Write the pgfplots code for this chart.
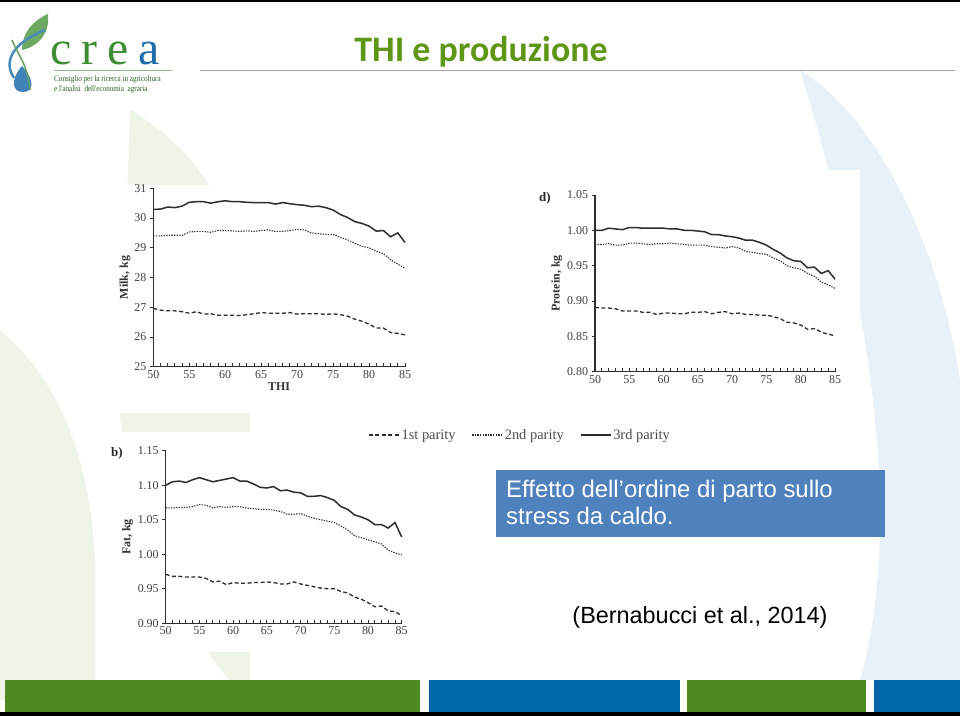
\documentclass[border=0pt]{standalone}
\usepackage{pgfplots}
\usepackage{pgfplotstable}
\pgfplotsset{compat=1.18}
\usepackage{fontspec}
\setmainfont{Liberation Serif}
\newfontfamily\arialf{Liberation Sans}
\newfontfamily\calib{Carlito}
\newfontfamily\creasmall[FakeStretch=0.85]{Liberation Serif}
\definecolor{titlegreen}{RGB}{96,150,22}
\definecolor{footgreen}{RGB}{78,138,34}
\definecolor{footblue}{RGB}{0,104,168}
\definecolor{boxblue}{RGB}{79,129,189}
\definecolor{palegreen}{RGB}{238,244,232}
\definecolor{paleblue}{RGB}{232,241,248}
\definecolor{linegray}{RGB}{45,45,45}
\definecolor{creagreen}{RGB}{60,140,50}
\definecolor{creablue}{RGB}{30,110,170}

\pgfplotstableread{
thi p1 p2 p3
50 26.96 29.40 30.29
51 26.90 29.40 30.30
52 26.88 29.42 30.37
53 26.88 29.42 30.35
54 26.85 29.42 30.40
55 26.80 29.53 30.53
56 26.85 29.55 30.55
57 26.77 29.55 30.55
58 26.78 29.52 30.50
59 26.73 29.58 30.55
60 26.73 29.58 30.58
61 26.73 29.57 30.55
62 26.72 29.55 30.55
63 26.75 29.57 30.53
64 26.78 29.55 30.52
65 26.82 29.58 30.52
66 26.80 29.60 30.52
67 26.80 29.55 30.47
68 26.80 29.55 30.52
69 26.82 29.58 30.48
70 26.77 29.62 30.45
71 26.78 29.60 30.43
72 26.78 29.50 30.38
73 26.78 29.47 30.40
74 26.76 29.45 30.35
75 26.78 29.45 30.27
76 26.75 29.35 30.12
77 26.70 29.27 30.02
78 26.60 29.15 29.88
79 26.53 29.05 29.82
80 26.43 29.00 29.73
81 26.30 28.88 29.56
82 26.30 28.80 29.58
83 26.15 28.60 29.37
84 26.12 28.45 29.50
85 26.07 28.30 29.18
}\milk

\pgfplotstableread{
thi p1 p2 p3
50 0.891 0.980 1.000
51 0.890 0.980 1.000
52 0.890 0.981 1.003
53 0.889 0.979 1.002
54 0.886 0.979 1.001
55 0.886 0.982 1.004
56 0.886 0.982 1.004
57 0.884 0.981 1.003
58 0.884 0.980 1.003
59 0.881 0.981 1.003
60 0.883 0.981 1.003
61 0.883 0.982 1.002
62 0.882 0.981 1.002
63 0.882 0.980 1.000
64 0.884 0.979 1.000
65 0.884 0.979 0.999
66 0.885 0.979 0.998
67 0.882 0.977 0.994
68 0.884 0.976 0.994
69 0.885 0.975 0.992
70 0.882 0.977 0.991
71 0.883 0.975 0.989
72 0.881 0.970 0.986
73 0.881 0.969 0.986
74 0.880 0.967 0.983
75 0.880 0.966 0.979
76 0.878 0.961 0.973
77 0.875 0.957 0.968
78 0.870 0.950 0.961
79 0.869 0.947 0.957
80 0.866 0.945 0.956
81 0.860 0.939 0.947
82 0.861 0.935 0.948
83 0.856 0.927 0.939
84 0.853 0.923 0.943
85 0.851 0.918 0.931
}\protein

\pgfplotstableread{
thi p1 p2 p3
50 0.971 1.0675 1.100
51 0.968 1.067 1.105
52 0.968 1.068 1.106
53 0.967 1.068 1.104
54 0.967 1.069 1.108
55 0.967 1.072 1.111
56 0.965 1.071 1.108
57 0.960 1.067 1.105
58 0.961 1.069 1.107
59 0.956 1.068 1.109
60 0.959 1.069 1.111
61 0.958 1.069 1.106
62 0.958 1.067 1.106
63 0.959 1.066 1.102
64 0.959 1.065 1.097
65 0.960 1.065 1.096
66 0.959 1.064 1.098
67 0.957 1.062 1.092
68 0.957 1.058 1.093
69 0.960 1.058 1.090
70 0.957 1.059 1.089
71 0.955 1.055 1.084
72 0.953 1.052 1.084
73 0.951 1.050 1.085
74 0.950 1.048 1.082
75 0.950 1.046 1.078
76 0.946 1.041 1.069
77 0.944 1.035 1.065
78 0.938 1.027 1.057
79 0.935 1.024 1.054
80 0.930 1.021 1.050
81 0.924 1.018 1.043
82 0.925 1.015 1.043
83 0.918 1.006 1.038
84 0.917 1.002 1.046
85 0.911 0.999 1.025
}\fat

\pgfplotsset{
  panel/.style={
    scale only axis,
    axis x line=bottom, axis y line=left,
    axis line style={-, line width=1.1bp, draw=linegray},
    xmin=50, xmax=85,
    xtick={50,55,...,85},
    minor x tick num=4,
    x tick style={line width=0.9bp, draw=linegray},
    y tick style={line width=0.9bp, draw=linegray},
    xtick align=inside,
    ytick align=outside,
    major tick length=3.5bp,
    minor tick length=3.5bp,
    tick label style={font=\fontsize{12}{12}\selectfont, text=black!75},
    /pgf/number format/assume math mode=true,
    label style={font=\bfseries\fontsize{12}{13}\selectfont, text=black!80},
    clip=false,
  },
  p1/.style={draw=linegray, line width=1.3bp, dash pattern=on 4bp off 2.5bp},
  p2/.style={draw=linegray, line width=1.1bp, dash pattern=on 1.3bp off 1.3bp},
  p3/.style={draw=linegray, line width=1.5bp},
}

\begin{document}
\begin{tikzpicture}[x=1bp,y=-1bp]
% background
\fill[white] (0,0) rectangle (960,716);
\fill[palegreen] (130,110) .. controls (200,150) and (240,220) .. (250,300) -- (250,700) .. controls (180,640) and (140,520) .. (120,420) -- cycle;
\fill[palegreen] (0,330) .. controls (60,380) and (90,460) .. (95,560) -- (95,700) -- (0,700) -- cycle;
\fill[paleblue] (800,70) .. controls (880,120) and (940,250) .. (960,380) -- (960,680) -- (860,680) .. controls (900,540) and (880,330) .. (800,70) -- cycle;
% top line
\fill[black] (0,0) rectangle (960,2.5);
% title
\node[anchor=base, inner sep=0pt, text=titlegreen, font=\calib\bfseries\fontsize{36}{38}\selectfont] at (481,62) {THI e produzione};
\draw[black!35, line width=1.2bp] (200,70.5) -- (955,70.5);
% logo
\fill[creablue!85] (22,66) .. controls (10,80) and (12,92) .. (23,92) .. controls (34,92) and (35,80) .. (22,66) -- cycle;
\fill[creagreen!75] (22,50) .. controls (22,32) and (34,20) .. (48,14) .. controls (50,32) and (40,46) .. (22,50) -- cycle;
\draw[creablue!80, line width=2.5bp] (14,78) .. controls (2,60) and (15,42) .. (45,30);
\draw[creagreen!80, line width=1.5bp] (12,40) .. controls (18,55) and (28,65) .. (30,90);
\node[anchor=base west, inner sep=0pt, font=\fontsize{48}{48}\selectfont] at (50,65) {\textcolor{creagreen}{c\kern10bp r\kern10bp e}\kern10bp\textcolor{creablue}{a}};
\draw[creagreen!60, line width=0.6bp] (54,70.5) -- (172,70.5);
\node[anchor=base west, inner sep=0pt, text=creagreen!70!black, font=\creasmall\fontsize{8.4}{8}\selectfont] at (54,82) {Consiglio per la ricerca in agricoltura};
\node[anchor=base west, inner sep=0pt, text=creagreen!70!black, font=\creasmall\fontsize{8.4}{8}\selectfont] at (54,92) {e l'analisi \ dell'economia \ agraria};
% white panels
\fill[white] (113,185) rectangle (420,413);
\fill[white] (528,170) rectangle (860,397);
\fill[white] (105,432) rectangle (420,652);
% footer
\fill[footgreen] (5,680) rectangle (420,712);
\fill[footblue] (429,680) rectangle (680,712);
\fill[footgreen] (687,680) rectangle (866,712);
\fill[footblue] (874,680) rectangle (960,712);
\fill[black] (0,712) rectangle (960,716);

% Milk
\begin{axis}[panel, at={(153.3bp,-366.7bp)}, anchor=south west,
  width=251.7bp, height=178.4bp,
  ymin=25, ymax=31, ytick={25,...,31},
  xlabel={THI}, ylabel={Milk, kg},
  xlabel style={yshift=2bp},
  ylabel style={yshift=-3bp},
  legend columns=3,
  legend style={at={(1.457,-0.383)}, anchor=center, draw=none, fill=none,
    font=\fontsize{14.5}{15}\selectfont, text=black!70,
    /tikz/every even column/.append style={column sep=14bp}},
  legend image code/.code={\draw[#1] (0bp,0bp) -- (30bp,0bp);},
]
\addplot[p1] table[x=thi, y=p1] {\milk};
\addplot[p2] table[x=thi, y=p2] {\milk};
\addplot[p3] table[x=thi, y=p3] {\milk};
\legend{1st parity, 2nd parity, 3rd parity}
\end{axis}

% Protein
\begin{axis}[panel, at={(595bp,-371.7bp)}, anchor=south west,
  width=240bp, height=176.7bp,
  ymin=0.80, ymax=1.05, ytick={0.80,0.85,...,1.05},
  yticklabel style={/pgf/number format/.cd, fixed, fixed zerofill, precision=2},
  ylabel={Protein, kg},
  ylabel style={yshift=-2bp},
]
\addplot[p1] table[x=thi, y=p1] {\protein};
\addplot[p2] table[x=thi, y=p2] {\protein};
\addplot[p3] table[x=thi, y=p3] {\protein};
\end{axis}
\node[font=\bfseries\fontsize{13}{14}\selectfont, text=black!85] at (545,198) {d)};

% Fat
\begin{axis}[panel, at={(165.7bp,-623.3bp)}, anchor=south west,
  width=236bp, height=172.6bp,
  ymin=0.90, ymax=1.15, ytick={0.90,0.95,...,1.15},
  yticklabel style={/pgf/number format/.cd, fixed, fixed zerofill, precision=2},
  ylabel={Fat, kg},
  ylabel style={yshift=-2bp},
]
\addplot[p1] table[x=thi, y=p1] {\fat};
\addplot[p2] table[x=thi, y=p2] {\fat};
\addplot[p3] table[x=thi, y=p3] {\fat};
\end{axis}
\node[font=\bfseries\fontsize{13}{14}\selectfont, text=black!85] at (117,453) {b)};

% text box
\fill[boxblue] (496,470) rectangle (885,537);
\node[anchor=base west, inner sep=0pt, text=white, font=\arialf\fontsize{24}{27}\selectfont] at (506,497) {Effetto dell’ordine di parto sullo};
\node[anchor=base west, inner sep=0pt, text=white, font=\arialf\fontsize{24}{27}\selectfont] at (506,524) {stress da caldo.};
% citation
\node[anchor=center, font=\arialf\fontsize{23.5}{26}\selectfont] at (700,617) {(Bernabucci et al., 2014)};
\end{tikzpicture}
\end{document}
